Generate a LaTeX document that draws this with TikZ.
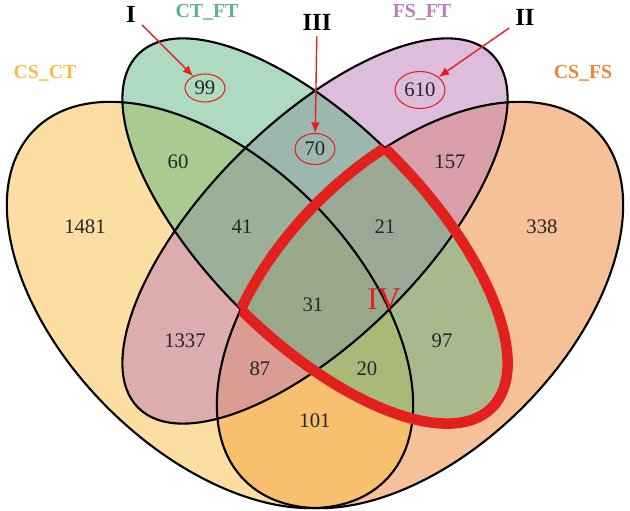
\documentclass[tikz,border=0pt]{standalone}
\usepackage{fontspec}
\setmainfont{Liberation Serif}
\usetikzlibrary{shapes.geometric,arrows.meta,positioning}

\definecolor{csct}{RGB}{249,190,69}
\definecolor{csfs}{RGB}{238,132,52}
\definecolor{ctft}{RGB}{91,181,130}
\definecolor{fsft}{RGB}{188,123,186}
\definecolor{markred}{RGB}{226,32,30}

\begin{document}
\begin{tikzpicture}[
    setfill/.style={fill opacity=0.5},
    setline/.style={draw=black, line width=1.2pt},
    num/.style={font=\fontsize{11.8}{13}\selectfont, text=black!85},
    ring/.style={ellipse, draw=markred, line width=0.6pt, inner sep=0pt},
    setname/.style={font=\fontsize{11.3}{13}\selectfont\bfseries},
    roman/.style={font=\fontsize{14}{16}\selectfont\bfseries},
    pointer/.style={-{Latex[length=6pt,width=5pt]}, markred, thick}
]
    \useasboundingbox (0,0) rectangle (12.6,10.22);

    % Set centres
    \coordinate (cCSCT) at (4.2,4.12);
    \coordinate (cCSFS) at (8.4,4.12);
    \coordinate (cMid) at (6.3,5.60);

    % Fills
    \fill[csfs, setfill, rotate around={45:(cCSFS)}] (cCSFS) ellipse (4.96 and 2.9);
    \fill[csct, setfill, rotate around={-45:(cCSCT)}] (cCSCT) ellipse (4.96 and 2.9);
    \fill[fsft, setfill, rotate around={45:(cMid)}] (cMid) ellipse (5.0 and 2.16);
    \fill[ctft, setfill, rotate around={-45:(cMid)}] (cMid) ellipse (5.0 and 2.16);

    % Outlines
    \draw[setline, rotate around={45:(cCSFS)}] (cCSFS) ellipse (4.96 and 2.9);
    \draw[setline, rotate around={-45:(cCSCT)}] (cCSCT) ellipse (4.96 and 2.9);
    \draw[setline, rotate around={45:(cMid)}] (cMid) ellipse (5.0 and 2.16);
    \draw[setline, rotate around={-45:(cMid)}] (cMid) ellipse (5.0 and 2.16);

    % Region IV: CT_FT inside CS_FS
    \begin{scope}
        \clip[rotate around={45:(cCSFS)}] (cCSFS) ellipse (4.96 and 2.9);
        \draw[markred, line width=6pt, rotate around={-45:(cMid)}] (cMid) ellipse (5.0 and 2.16);
    \end{scope}
    \begin{scope}
        \clip[rotate around={-45:(cMid)}] (cMid) ellipse (5.0 and 2.16);
        \draw[markred, line width=6pt, rotate around={45:(cCSFS)}] (cCSFS) ellipse (4.96 and 2.9);
    \end{scope}

    % Set names
    \node[setname, text=csct] (lCSCT) at (0.90,8.76) {CS\_CT};
    \node[setname, text=ctft] (lCTFT) at (4.14,9.98) {CT\_FT};
    \node[setname, text=fsft] (lFSFT) at (8.44,9.98) {FS\_FT};
    \node[setname, text=csfs] (lCSFS) at (11.66,8.76) {CS\_FS};

    % Counts
    \node[num, ring, minimum width=0.8cm, minimum height=0.56cm] (n99) at (4.10,8.46) {99};
    \node[num, ring, minimum width=1.0cm, minimum height=0.74cm] (n610) at (8.40,8.42) {610};
    \node[num, ring, minimum width=0.8cm, minimum height=0.62cm] (n70) at (6.30,7.24) {70};
    \node[num] (n60) at (3.56,6.98) {60};
    \node[num] (n157) at (9.00,6.98) {157};
    \node[num] (n1481) at (1.70,5.68) {1481};
    \node[num] (n41) at (4.84,5.68) {41};
    \node[num] (n21) at (7.70,5.68) {21};
    \node[num] (n338) at (10.84,5.68) {338};
    \node[num] (n31) at (6.26,4.12) {31};
    \node[num] (n1337) at (3.70,3.40) {1337};
    \node[num] (n97) at (8.84,3.40) {97};
    \node[num] (n87) at (5.20,2.84) {87};
    \node[num] (n20) at (7.34,2.84) {20};
    \node[num] (n101) at (6.30,1.80) {101};

    % Roman labels
    \node[roman] (rI) at (2.62,9.94) {I};
    \node[roman] (rIII) at (6.34,9.78) {III};
    \node[roman] (rII) at (10.50,9.88) {II};
    \node[font=\fontsize{18}{20}\selectfont, text=markred] (rIV) at (7.68,4.24) {IV};

    % Pointers
    \draw[pointer] (rI) -- (n99);
    \draw[pointer] (rIII) -- (n70);
    \draw[pointer] (rII) -- (n610);
\end{tikzpicture}
\end{document}
